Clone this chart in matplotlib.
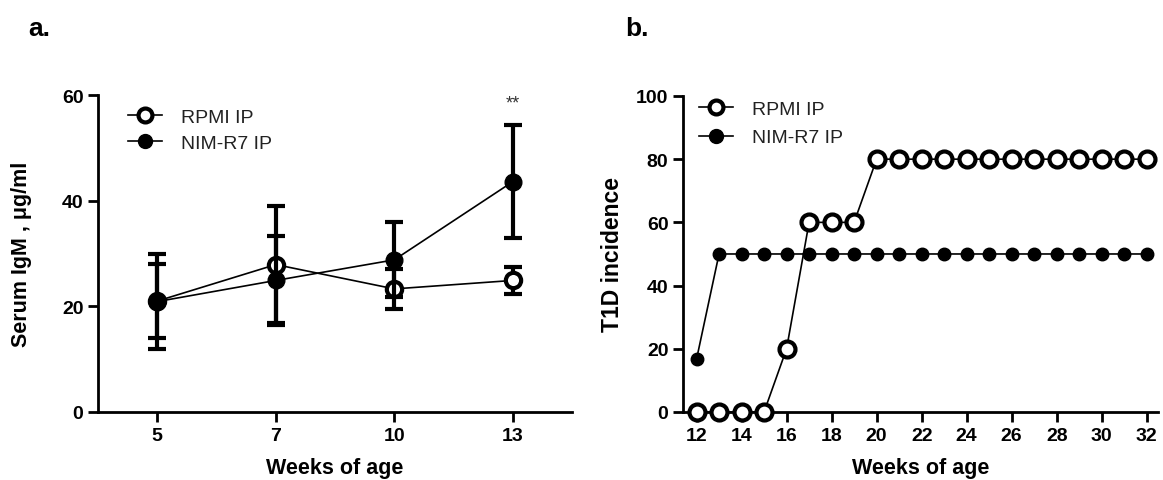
import matplotlib.pyplot as plt
from matplotlib.lines import Line2D

plt.rcParams["font.family"] = ["Liberation Sans", "DejaVu Sans"]

# panel a: serum IgM
weeks_a = ["5", "7", "10", "13"]
rpmi_igm = [21.0, 27.9, 23.3, 24.9]
rpmi_igm_err = [7.0, 11.0, 3.8, 2.5]
nim_igm = [20.9, 24.9, 28.8, 43.6]
nim_igm_err = [9.0, 8.5, 7.1, 10.7]

# panel b: T1D incidence
weeks_b = list(range(12, 33))
rpmi_t1d = [0, 0, 0, 0, 20, 60, 60, 60] + [80] * 13
nim_t1d = [16.7] + [50] * 20

fig = plt.figure(figsize=(11.63, 4.81), dpi=100)
ax1 = fig.add_axes([0.0843, 0.1414, 0.4076, 0.659])
ax2 = fig.add_axes([0.5873, 0.1414, 0.4084, 0.657])

open_style = dict(marker="o", mfc="white", mec="black", mew=3, color="black", lw=1.2)
fill_style = dict(marker="o", mfc="black", mec="black", color="black", lw=1.2)

xa = range(len(weeks_a))
ax1.errorbar(xa, rpmi_igm, yerr=rpmi_igm_err, ms=11, elinewidth=3,
             capsize=6.5, capthick=3, ecolor="black", zorder=3, **open_style)
ax1.errorbar(xa, nim_igm, yerr=nim_igm_err, ms=12, elinewidth=3,
             capsize=6.5, capthick=3, ecolor="black", zorder=4, **fill_style)
ax1.text(3, 56.8, "**", ha="center", va="bottom", fontsize=13, color="#333333")

ax1.set_xlim(-0.5, 3.5)
ax1.set_ylim(0, 60)
ax1.set_xticks(list(xa))
ax1.set_xticklabels(weeks_a)
ax1.set_yticks([0, 20, 40, 60])
ax1.set_ylabel("Serum IgM , μg/ml", fontsize=15.5, fontweight="bold")
ax1.yaxis.set_label_coords(-0.14, 0.5)
ax1.set_xlabel("Weeks of age", fontsize=15.5, fontweight="bold", labelpad=10)

ax2.plot(weeks_b, rpmi_t1d, ms=11.5, zorder=3, **open_style)
ax2.plot(weeks_b, nim_t1d, ms=9, zorder=4, **fill_style)
ax2.set_xlim(11.4, 32.5)
ax2.set_ylim(0, 100)
ax2.set_xticks(range(12, 33, 2))
ax2.set_yticks(range(0, 101, 20))
ax2.set_ylabel("T1D incidence", fontsize=16.5, fontweight="bold")
ax2.yaxis.set_label_coords(-0.125, 0.5)
ax2.set_xlabel("Weeks of age", fontsize=15.5, fontweight="bold", labelpad=10)

for ax in (ax1, ax2):
    ax.spines["top"].set_visible(False)
    ax.spines["right"].set_visible(False)
    ax.spines["left"].set_linewidth(2)
    ax.spines["bottom"].set_linewidth(2)
    ax.tick_params(width=2, length=7, labelsize=14)
    for lbl in ax.get_xticklabels() + ax.get_yticklabels():
        lbl.set_fontweight("bold")
    for sp in ax.spines.values():
        sp.set_clip_on(False)
    for line in ax.get_lines():
        line.set_clip_on(False)

handles = [
    Line2D([], [], ms=10, **open_style),
    Line2D([], [], ms=10, **fill_style),
]
for ax, anchor, spacing in ((ax1, (0.110, 0.772), 0.4), (ax2, (0.601, 0.789), 0.55)):
    leg = ax.legend(handles, ["RPMI IP", "NIM-R7 IP"], loc="upper left",
                    bbox_to_anchor=anchor, bbox_transform=fig.transFigure,
                    frameon=False, fontsize=14, handlelength=1.75,
                    handletextpad=1.0, labelspacing=spacing, borderpad=0,
                    borderaxespad=0)
    for t in leg.get_texts():
        t.set_color("#222222")

fig.text(0.024, 0.94, "a.", fontsize=19, fontweight="bold", va="center")
fig.text(0.538, 0.94, "b.", fontsize=19, fontweight="bold", va="center")

fig.savefig("out.png", dpi=100)
